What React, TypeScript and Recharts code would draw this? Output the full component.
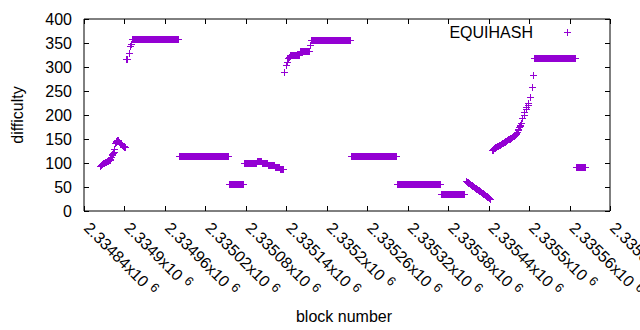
import React from 'react';
import { ScatterChart, Scatter, XAxis, YAxis, ReferenceArea, Customized } from 'recharts';

const FONT = '"Liberation Sans", Arial, Helvetica, sans-serif';
const PURPLE = '#9400d3';
const W = 640;
const H = 330;
const PLOT_LEFT = 84;
const PLOT_RIGHT = 610;
const PLOT_TOP = 19;
const PLOT_BOTTOM = 211;
const TICK = 5;

// axis ticks
const xTicks = [2334840, 2334900, 2334960, 2335020, 2335080, 2335140, 2335200, 2335260, 2335320, 2335380, 2335440, 2335500, 2335560, 2335620];
const xTickMantissa = ['2.33484', '2.3349', '2.33496', '2.33502', '2.33508', '2.33514', '2.3352', '2.33526', '2.33532', '2.33538', '2.33544', '2.3355', '2.33556', '2.33562'];
const yTicks = [0, 50, 100, 150, 200, 250, 300, 350, 400];

// runs of consecutive blocks with the same difficulty
const plateauFrom = [2334911, 2334981, 2335055, 2335077, 2335096, 2335104, 2335113, 2335123, 2335130, 2335146, 2335160, 2335177, 2335236, 2335304, 2335369, 2335508, 2335570];
const plateauTo = [2334980, 2335054, 2335076, 2335095, 2335103, 2335112, 2335122, 2335129, 2335135, 2335159, 2335173, 2335235, 2335303, 2335368, 2335404, 2335568, 2335583];
const plateauDifficulty = [358, 114, 57, 100, 104, 99, 96, 92, 88, 325, 333, 356, 114, 57, 36, 318, 92];

// blocks with individually varying difficulty (one value per consecutive block, null = no point)
const rampStart = [2334864, 2334902, 2335137, 2335175, 2335406, 2335445];
const rampDifficulty: (number | null)[][] = [
  [94, 96, 97, 98, 99, 100, 101, 102, 102, 103, 104, 104, 105, 106, 107, 109, 112, 116, 119, 121, 123, 130, 141, 144, 146, 147, 148, 146, 143, 141, 140, 139, 138, 137, 136, 135, 134, 133],
  [316, 316, 317, null, 330, null, 343, 348],
  [289, null, 304, null, 311, null, 318, 320, 322],
  [345],
  [63, 62, 61, 61, 59, 58, 57, 56, 55, 54, 53, 52, 50, 49, 48, 47, 46, 45, 44, 43, 42, 41, 40, 39, 38, 37, 36, 35, 34, 33, 32, 31, 30, 29, 28, 27, 26],
  [127, 128, 130, 131, 132, 133, 134, 135, 135, 136, 137, 138, 138, 139, 140, 141, 141, 142, 143, 144, 145, 146, 147, 148, 149, 150, 151, 152, 153, 154, 155, 156, 157, 158, 159, 161, 163, 165, 168, 171, 174, 177, 180, 184, null, 193, null, 200, 207, null, 212, 217, null, 221, 224, null, null, 238, null, 258, null, 284],
];

type Pt = { block: number; difficulty: number };
const points: Pt[] = [];
plateauFrom.forEach((from, i) => {
  for (let b = from; b <= plateauTo[i]; b++) points.push({ block: b, difficulty: plateauDifficulty[i] });
});
rampStart.forEach((start, i) => {
  rampDifficulty[i].forEach((v, j) => {
    if (v !== null) points.push({ block: start + j, difficulty: v });
  });
});

function Plus(props: any) {
  const { cx, cy } = props;
  if (cx == null || cy == null) return null;
  const x = Math.round(cx) + 0.5;
  const y = Math.round(cy) + 0.5;
  return (
    <path d={`M${x - 3.5},${y}H${x + 3.5}M${x},${y - 3.5}V${y + 3.5}`} stroke={PURPLE} strokeWidth={1} fill="none" />
  );
}

function XTick(props: any) {
  const { x, payload } = props;
  const i = xTicks.indexOf(payload.value);
  const px = Math.round(x) + 0.5;
  return (
    <g>
      <line x1={px} y1={PLOT_BOTTOM} x2={px} y2={PLOT_BOTTOM - TICK} stroke="#000" />
      <line x1={px} y1={PLOT_TOP} x2={px} y2={PLOT_TOP + TICK} stroke="#000" />
      <text transform={`translate(${x - 1},${229}) rotate(45)`} fontSize={16} fontFamily={FONT} fill="#000">
        {xTickMantissa[i]}x10<tspan dx={5} dy={-5} fontSize={12.8}>6</tspan>
      </text>
    </g>
  );
}

function YTick(props: any) {
  const { y, payload } = props;
  const py = Math.round(y) + 0.5;
  return (
    <g>
      <line x1={PLOT_LEFT} y1={py} x2={PLOT_LEFT + TICK} y2={py} stroke="#000" />
      <line x1={PLOT_RIGHT} y1={py} x2={PLOT_RIGHT - TICK} y2={py} stroke="#000" />
      <text x={72} y={y} textAnchor="end" dominantBaseline="central" fontSize={16} fontFamily={FONT} fill="#000">
        {payload.value}
      </text>
    </g>
  );
}

function Titles() {
  return (
    <g fontFamily={FONT} fontSize={16} fill="#000">
      <text x={0} y={0} transform={`translate(17,115) rotate(-90)`} textAnchor="middle" dominantBaseline="central">difficulty</text>
      <text x={344} y={316} textAnchor="middle" dominantBaseline="central">block number</text>
      <text x={533} y={32} textAnchor="end" dominantBaseline="central">EQUIHASH</text>
      <path d={`M564,32.5H571M567.5,29V36`} stroke={PURPLE} strokeWidth={1} fill="none" />
    </g>
  );
}

export default function App() {
  return (
    <div style={{ position: 'absolute', left: 0, top: 0, width: W, height: H, background: '#fff' }}>
      <ScatterChart width={W} height={H} margin={{ top: PLOT_TOP, right: W - PLOT_RIGHT, bottom: 0, left: 0 }}>
        <XAxis
          dataKey="block"
          type="number"
          domain={[xTicks[0], xTicks[xTicks.length - 1]]}
          ticks={xTicks}
          interval={0}
          height={H - PLOT_BOTTOM}
          tickSize={0}
          tickMargin={0}
          axisLine={false}
          tickLine={false}
          tick={(p: any) => <XTick {...p} />}
          allowDataOverflow
        />
        <YAxis
          dataKey="difficulty"
          type="number"
          domain={[0, 400]}
          ticks={yTicks}
          interval={0}
          width={PLOT_LEFT}
          tickSize={0}
          tickMargin={0}
          axisLine={false}
          tickLine={false}
          tick={(p: any) => <YTick {...p} />}
          allowDataOverflow
        />
        <ReferenceArea x1={xTicks[0]} x2={xTicks[xTicks.length - 1]} y1={0} y2={400} fill="none" fillOpacity={0} stroke="#000" strokeWidth={1} />
        <Scatter data={points} shape={Plus} isAnimationActive={false} fill={PURPLE} />
        <Customized component={Titles} />
      </ScatterChart>
    </div>
  );
}
